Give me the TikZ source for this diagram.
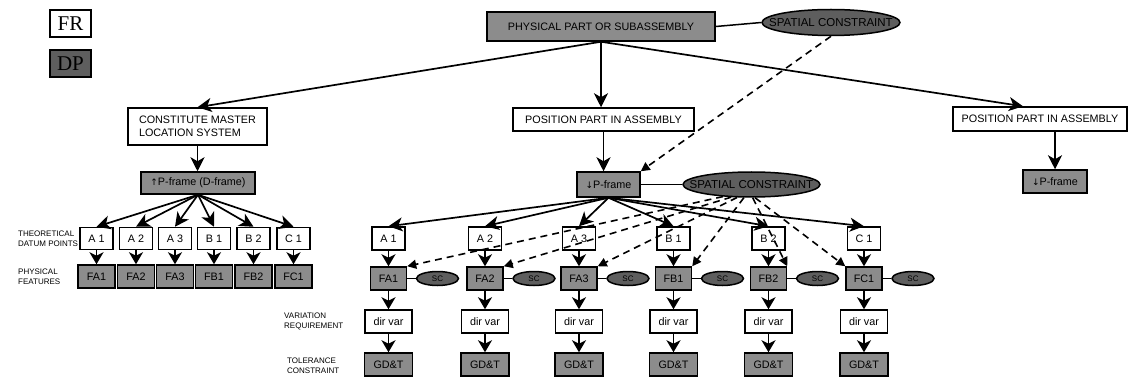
\documentclass[tikz,border=0pt]{standalone}
\usepackage{fontspec}
\setmainfont{Liberation Sans}
\newfontfamily\legendfont{Liberation Serif}
\newfontfamily\arrowfont{DejaVu Sans}
\newcommand{\uparr}{{\arrowfont\fontsize{9}{9}\selectfont ↑}}
\newcommand{\downarr}{{\arrowfont\fontsize{9}{9}\selectfont ↓}}
\usetikzlibrary{arrows.meta,shapes.geometric,calc}

\definecolor{dpgray}{HTML}{8C8C8C}
\definecolor{scgray}{HTML}{5E5E5E}

\begin{document}
\begin{tikzpicture}[x=1pt,y=-1pt,
  every node/.style={font=\fontsize{10.8}{12.5}\selectfont, inner sep=0pt},
  wh/.style 2 args={minimum width=#1, minimum height=#2},
  fr/.style={draw, line width=1.5pt, fill=white},
  dp/.style={draw, line width=1.5pt, fill=dpgray},
  sc/.style={draw, ellipse, line width=1.5pt, fill=scgray},
  lbl/.style={font=\fontsize{8}{9.5}\selectfont, align=left, anchor=north west},
  arr/.style={line width=1.7pt, -{Stealth[length=14pt,width=14pt,inset=4pt]}},
  short/.style={line width=1.7pt, -{Stealth[length=12pt,width=14pt,inset=3.5pt]}},
  dashlink/.style={line width=1.6pt, dash pattern=on 7pt off 5pt, -{Triangle[length=9pt,width=9pt]}},
  plain/.style={line width=1.5pt}]

\useasboundingbox (0,0) rectangle (1128,377);

% legend
\node[fr, wh={41}{27}, font=\legendfont\fontsize{21}{21}\selectfont] (legfr) at (70.5,23.5) {FR};
\node[dp, fill=scgray, wh={41}{27}, font=\legendfont\fontsize{21}{21}\selectfont] (legdp) at (70.5,63.5) {DP};

% top level
\node[dp, wh={228}{29}] (top) at (601,26.5) {PHYSICAL PART OR SUBASSEMBLY};
\node[sc, wh={138}{26}, font=\fontsize{11.5}{12}\selectfont] (sc1) at (831,22.5) {\makebox[0pt]{SPATIAL CONSTRAINT}};
\draw[plain] (top.east) -- (sc1.west);

% second level
\node[fr, wh={139}{37}, align=left] (cms) at (197.5,126.5) {CONSTITUTE MASTER\\LOCATION SYSTEM};
\node[fr, wh={181}{23}] (ppa) at (603.5,119.5) {POSITION PART IN ASSEMBLY};
\node[fr, wh={174}{24}] (ppa2) at (1040,119) {POSITION PART IN ASSEMBLY};

\draw[arr] (top.south) -- (cms.north);
\draw[arr] (top.south) -- (top.south |- ppa.north);
\draw[arr] (top.south) -- ($(ppa2.north)+(-17,0)$);

% frames
\node[dp, wh={114}{22}] (dframe) at (198,183) {\uparr P-frame (D-frame)};
\node[dp, wh={63}{25}] (pframe) at (608.5,184.5) {\downarr P-frame};
\node[dp, wh={64}{23}] (pframe2) at (1055,181.5) {\downarr P-frame};
\node[sc, wh={137}{25}, font=\fontsize{11.5}{12}\selectfont] (sc2) at (751.5,184.5) {\makebox[0pt]{SPATIAL CONSTRAINT}};

\draw[arr] (cms.south) -- (cms.south |- dframe.north);
\draw[arr] (ppa.south) -- (ppa.south |- pframe.north);
\draw[arr] (pframe2.north |- ppa2.south) -- (pframe2.north);
\draw[plain] (pframe.east) -- (sc2.west);
\draw[dashlink] (sc1.south) -- (pframe.north east);

% row labels
\node[lbl] (lbltheo) at (18,231) {THEORETICAL\\DATUM POINTS};
\node[lbl] (lblphys) at (18,269) {PHYSICAL\\FEATURES};
\node[lbl] (lblvar) at (284,313) {VARIATION\\REQUIREMENT};
\node[lbl] (lbltol) at (287,358) {TOLERANCE\\CONSTRAINT};

% master location system branch
\foreach \i/\ta/\tf/\x in {1/A 1/FA1/96.5, 2/A 2/FA2/136, 3/A 3/FA3/175, 4/B 1/FB1/214, 5/B 2/FB2/253.5, 6/C 1/FC1/293.5} {
  \node[fr, wh={33}{22}] (lA\i) at (\x,238.5) {\ta};
  \node[dp, wh={37}{23}] (lF\i) at (\x,276.5) {\tf};
  \draw[arr] (dframe.south) -- (lA\i.north);
  \draw[short] (lA\i.south) -- (lF\i.north);
}

% part positioning branch
\foreach \i/\ta/\tf/\x in {1/A 1/FA1/388.5, 2/A 2/FA2/485, 3/A 3/FA3/579, 4/B 1/FB1/673.5, 5/B 2/FB2/768.5, 6/C 1/FC1/864} {
  \node[fr, wh={33}{23}] (mA\i) at (\x,238.5) {\ta};
  \node[dp, wh={36}{23}] (mF\i) at (\x,278.5) {\tf};
  \node[sc, wh={42}{14}, font=\fontsize{8}{8}\selectfont] (mS\i) at (\x+49,278.5) {SC};
  \node[fr, wh={47}{23}] (mV\i) at (\x,321.5) {dir var};
  \node[dp, wh={48}{23}] (mG\i) at (\x,364.5) {GD\&T};
  \draw[arr] (pframe.south) -- (mA\i.north);
  \draw[short] (mA\i.south) -- (mF\i.north);
  \draw[short] (mF\i.south) -- (mV\i.north);
  \draw[short] (mV\i.south) -- (mG\i.north);
  \draw[plain] (mF\i.east) -- (mS\i.west);
}
\foreach \i/\ang in {1/203, 2/212, 3/222, 4/240, 5/275}
  \draw[dashlink] (sc2.\ang) -- (mF\i.north east);
\draw[dashlink] (sc2.285) -- (mF6.north west);

\end{tikzpicture}
\end{document}
